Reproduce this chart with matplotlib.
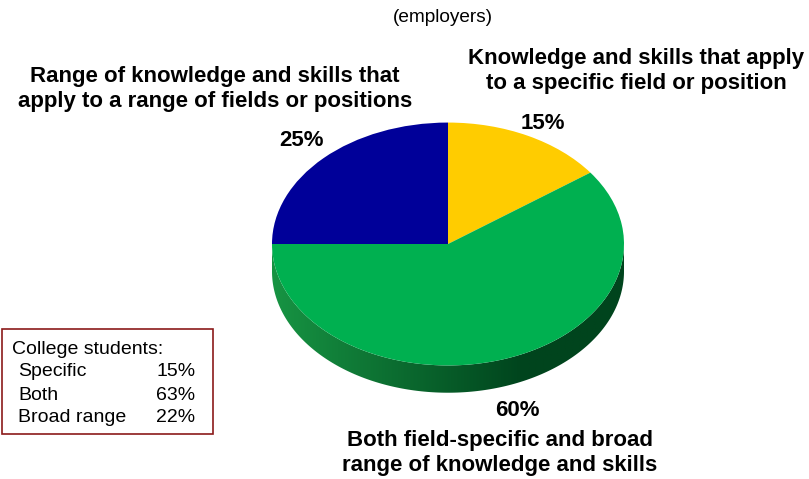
import numpy as np
import matplotlib.pyplot as plt
from matplotlib.transforms import Affine2D
from matplotlib.patches import Polygon, Rectangle
from matplotlib.colors import to_rgb

# employers' answers, clockwise from 12 o'clock
labels = ['Knowledge and skills that apply\nto a specific field or position',
          'Both field-specific and broad\nrange of knowledge and skills',
          'Range of knowledge and skills that\napply to a range of fields or positions']
shares = [15, 60, 25]
colors = ['#FFCC00', '#00B050', '#000099']

# college students' answers (box)
student_cats = ['Specific', 'Both', 'Broad range']
student_vals = [15, 63, 22]

plt.rcParams['font.family'] = ['Liberation Sans', 'DejaVu Sans']

W, H = 809, 479
fig = plt.figure(figsize=(W / 100, H / 100), dpi=100)
ax = fig.add_axes([0, 0, 1, 1])

rx = 176.0          # pie radius in pixels
cx, cy = 448, 244   # pie centre (pixels from top-left)
tilt = 0.69         # vertical squash of the top face
depth = 0.155       # side wall height, in radius units

wedges, _ = ax.pie(shares, colors=colors, startangle=90, counterclock=False,
                   wedgeprops=dict(linewidth=0))
squash = Affine2D().scale(1, tilt) + ax.transData
for w in wedges:
    w.set_transform(squash)
    w.set_zorder(3)

# side wall of the front (lower) half, shaded darker to the right
dark_l, dark_r = np.array(to_rgb('#179443')), np.array(to_rgb('#00441d'))
gx = np.linspace(-1, 1, 400)
f = np.minimum(1, 1.4 * (gx + 1) / 2)[:, None]
grad = (dark_l * (1 - f) + dark_r * f)[None, :, :]
for w in wedges:
    a0, a1 = sorted((w.theta1, w.theta2))
    a0, a1 = max(a0, -180), min(a1, 0)
    if a1 <= a0:
        continue
    ang = np.radians(np.linspace(a0, a1, 200))
    top = np.column_stack([np.cos(ang), tilt * np.sin(ang)])
    bot = top[::-1] - [0, depth]
    wall = Polygon(np.vstack([top, bot]), closed=True, facecolor='none',
                   edgecolor='none', transform=ax.transData)
    ax.add_patch(wall)
    im = ax.imshow(grad, extent=[-1, 1, -tilt - depth, 0.01], aspect='auto',
                   interpolation='bilinear', zorder=2)
    im.set_clip_path(wall)

ax.set_aspect('auto')
ax.set_xlim(-cx / rx, (W - cx) / rx)
ax.set_ylim(-(H - cy) / rx, cy / rx)
ax.axis('off')


def px(x, y):
    return x / W, 1 - y / H


fig.text(*px(443, 17), '(employers)', ha='center', va='center', fontsize=13.7)

bold = dict(ha='center', va='center', fontsize=16, fontweight='bold',
            linespacing=1.3)
fig.text(*px(636, 71), labels[0], **bold)
fig.text(*px(500, 453), labels[1], **bold)
fig.text(*px(215, 89), labels[2], **bold)
fig.text(*px(543, 124), f'{shares[0]}%', **bold)
fig.text(*px(517, 410), f'{shares[1]}%', **bold)
fig.text(*px(302, 140), f'{shares[2]}%', **bold)

# students box
fig.patches.append(Rectangle(px(2, 434), 211 / W, 105 / H, transform=fig.transFigure,
                             fill=False, edgecolor='#8B1A1A', linewidth=1.2))
fig.text(*px(12, 349), 'College students:', ha='left', va='center', fontsize=14)
for i, (c, v) in enumerate(zip(student_cats, student_vals)):
    y = 372 + i * 23
    fig.text(*px(18, y), c, ha='left', va='center', fontsize=14)
    fig.text(*px(156, y), f'{v}%', ha='left', va='center', fontsize=14)

fig.savefig('out.png', dpi=100)
